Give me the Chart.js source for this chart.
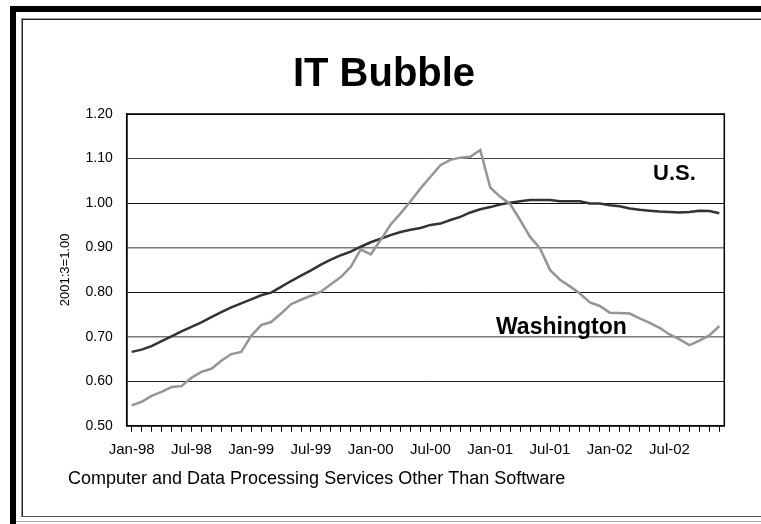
<!DOCTYPE html>
<html>
<head>
<meta charset="utf-8">
<script src="https://cdn.jsdelivr.net/npm/chart.js@4.4.0/dist/chart.umd.min.js"></script>
<style>
  html, body { margin: 0; padding: 0; background: #fff; }
  #wrap { position: relative; width: 761px; height: 524px; overflow: hidden; background: #fff; }
  #wrap canvas { position: absolute; left: 0; top: 0; }
  .rule { position: absolute; }
</style>
</head>
<body>
<div id="wrap">
  <canvas id="chart" width="761" height="524"></canvas>
  <!-- slide frame: heavy black bars top/left, thin inner border -->
  <div class="rule" style="left:10px;top:6px;width:751px;height:6px;background:#000"></div>
  <div class="rule" style="left:10px;top:6px;width:6px;height:518px;background:#000"></div>
  <div class="rule" style="left:21px;top:18px;width:740px;height:1px;background:#999"></div>
  <div class="rule" style="left:21px;top:19px;width:740px;height:1px;background:#222"></div>
  <div class="rule" style="left:21px;top:18px;width:1px;height:499px;background:#999"></div>
  <div class="rule" style="left:22px;top:19px;width:1px;height:498px;background:#222"></div>
  <div class="rule" style="left:21px;top:516px;width:740px;height:1px;background:#555"></div>
  <div class="rule" style="left:16px;top:521px;width:745px;height:1px;background:#aaa"></div>
</div>
<script>
const TITLE = 'IT Bubble';
const SUBTITLE = 'Computer and Data Processing Services Other Than Software';
const Y_TITLE = '2001:3=1.00';

const MONTHS = ['Jan', 'Feb', 'Mar', 'Apr', 'May', 'Jun', 'Jul', 'Aug', 'Sep', 'Oct', 'Nov', 'Dec'];
const YEARS = ['98', '99', '00', '01', '02'];
const labels = [];
YEARS.forEach(y => MONTHS.forEach(m => labels.push(m + '-' + y)));

// index, 2001:3 = 1.00
const usValues = [
  0.666, 0.671, 0.679, 0.690, 0.701, 0.712, 0.722, 0.732, 0.744, 0.755, 0.766, 0.775,
  0.784, 0.793, 0.799, 0.812, 0.825, 0.837, 0.849, 0.862, 0.873, 0.883, 0.891, 0.902,
  0.912, 0.920, 0.928, 0.935, 0.940, 0.944, 0.951, 0.954, 0.962, 0.969, 0.979, 0.986,
  0.991, 0.997, 1.001, 1.004, 1.007, 1.007, 1.007, 1.004, 1.004, 1.004, 0.999, 0.999,
  0.995, 0.993, 0.988, 0.985, 0.983, 0.981, 0.980, 0.979, 0.980, 0.983, 0.982, 0.977
];
const waValues = [
  0.546, 0.554, 0.567, 0.576, 0.587, 0.589, 0.608, 0.621, 0.628, 0.646, 0.661, 0.666,
  0.702, 0.726, 0.733, 0.752, 0.773, 0.783, 0.792, 0.801, 0.818, 0.834, 0.857, 0.896,
  0.885, 0.917, 0.952, 0.977, 1.004, 1.033, 1.059, 1.085, 1.097, 1.102, 1.104, 1.119,
  1.035, 1.014, 0.998, 0.962, 0.924, 0.898, 0.850, 0.828, 0.813, 0.797, 0.777, 0.769,
  0.754, 0.753, 0.752, 0.741, 0.731, 0.720, 0.705, 0.694, 0.681, 0.691, 0.703, 0.724
];

// horizontal rules, bottom (0.50) to top (1.20)
const gridColors = ['#000', '#222', '#7a7a7a', '#111', '#7a7a7a', '#111', '#444', '#000'];
const gridWidths = [1, 1, 1.5, 1, 1.5, 1, 1, 1];

const FONT = '"Liberation Sans", Arial, Helvetica, sans-serif';
Chart.defaults.font.family = FONT;
Chart.defaults.color = '#000';

const decor = {
  id: 'decor',
  beforeDraw(chart) {
    const { ctx, width, height } = chart;
    ctx.save();
    ctx.fillStyle = '#fff';
    ctx.fillRect(0, 0, width, height);
    ctx.restore();
  },
  afterDraw(chart) {
    const { ctx, chartArea: a } = chart;
    ctx.save();
    ctx.strokeStyle = '#000';
    ctx.lineWidth = 1.5;
    ctx.strokeRect(a.left, a.top, a.right - a.left, a.bottom - a.top);

    ctx.fillStyle = '#000';
    ctx.textBaseline = 'alphabetic';
    ctx.textAlign = 'center';
    ctx.font = 'bold 40px ' + FONT;
    ctx.fillText(TITLE, 384, 86);

    ctx.textAlign = 'left';
    ctx.font = 'bold 22px ' + FONT;
    ctx.fillText('U.S.', 653, 180);
    ctx.font = 'bold 23px ' + FONT;
    ctx.fillText('Washington', 496, 334);

    ctx.font = '18px ' + FONT;
    ctx.fillText(SUBTITLE, 68, 484);
    ctx.restore();
  }
};

new Chart(document.getElementById('chart'), {
  type: 'line',
  data: {
    labels: labels,
    datasets: [
      {
        label: 'Washington',
        data: waValues,
        borderColor: '#959595',
        borderWidth: 2.5,
        pointRadius: 0,
        tension: 0,
        fill: false
      },
      {
        label: 'U.S.',
        data: usValues,
        borderColor: '#333',
        borderWidth: 2.5,
        pointRadius: 0,
        tension: 0,
        fill: false
      }
    ]
  },
  options: {
    responsive: false,
    animation: false,
    events: [],
    layout: { padding: { top: 114, right: 36.7, bottom: 0, left: 0 } },
    plugins: {
      legend: { display: false },
      title: { display: false },
      tooltip: { enabled: false }
    },
    scales: {
      x: {
        offset: true,
        afterFit: s => { s.height = 98.2; },
        grid: {
          drawOnChartArea: false,
          drawTicks: true,
          tickLength: 6,
          color: '#000',
          lineWidth: 1
        },
        border: { color: '#000', width: 1.5 },
        ticks: {
          autoSkip: false,
          maxRotation: 0,
          padding: 9,
          font: { size: 15 },
          callback: (v, i) => (i % 6 === 0 ? labels[i] : '')
        }
      },
      y: {
        min: 0.5,
        max: 1.2,
        afterFit: s => { s.width = 126.7; },
        title: {
          display: true,
          text: Y_TITLE,
          font: { size: 13 },
          padding: { top: 58, bottom: 0 }
        },
        grid: {
          drawTicks: false,
          color: c => gridColors[c.index],
          lineWidth: c => gridWidths[c.index]
        },
        border: { color: '#000', width: 1.5 },
        ticks: {
          stepSize: 0.1,
          padding: 14,
          font: { size: 14 },
          callback: v => v.toFixed(2)
        }
      }
    }
  },
  plugins: [decor]
});
</script>
</body>
</html>
